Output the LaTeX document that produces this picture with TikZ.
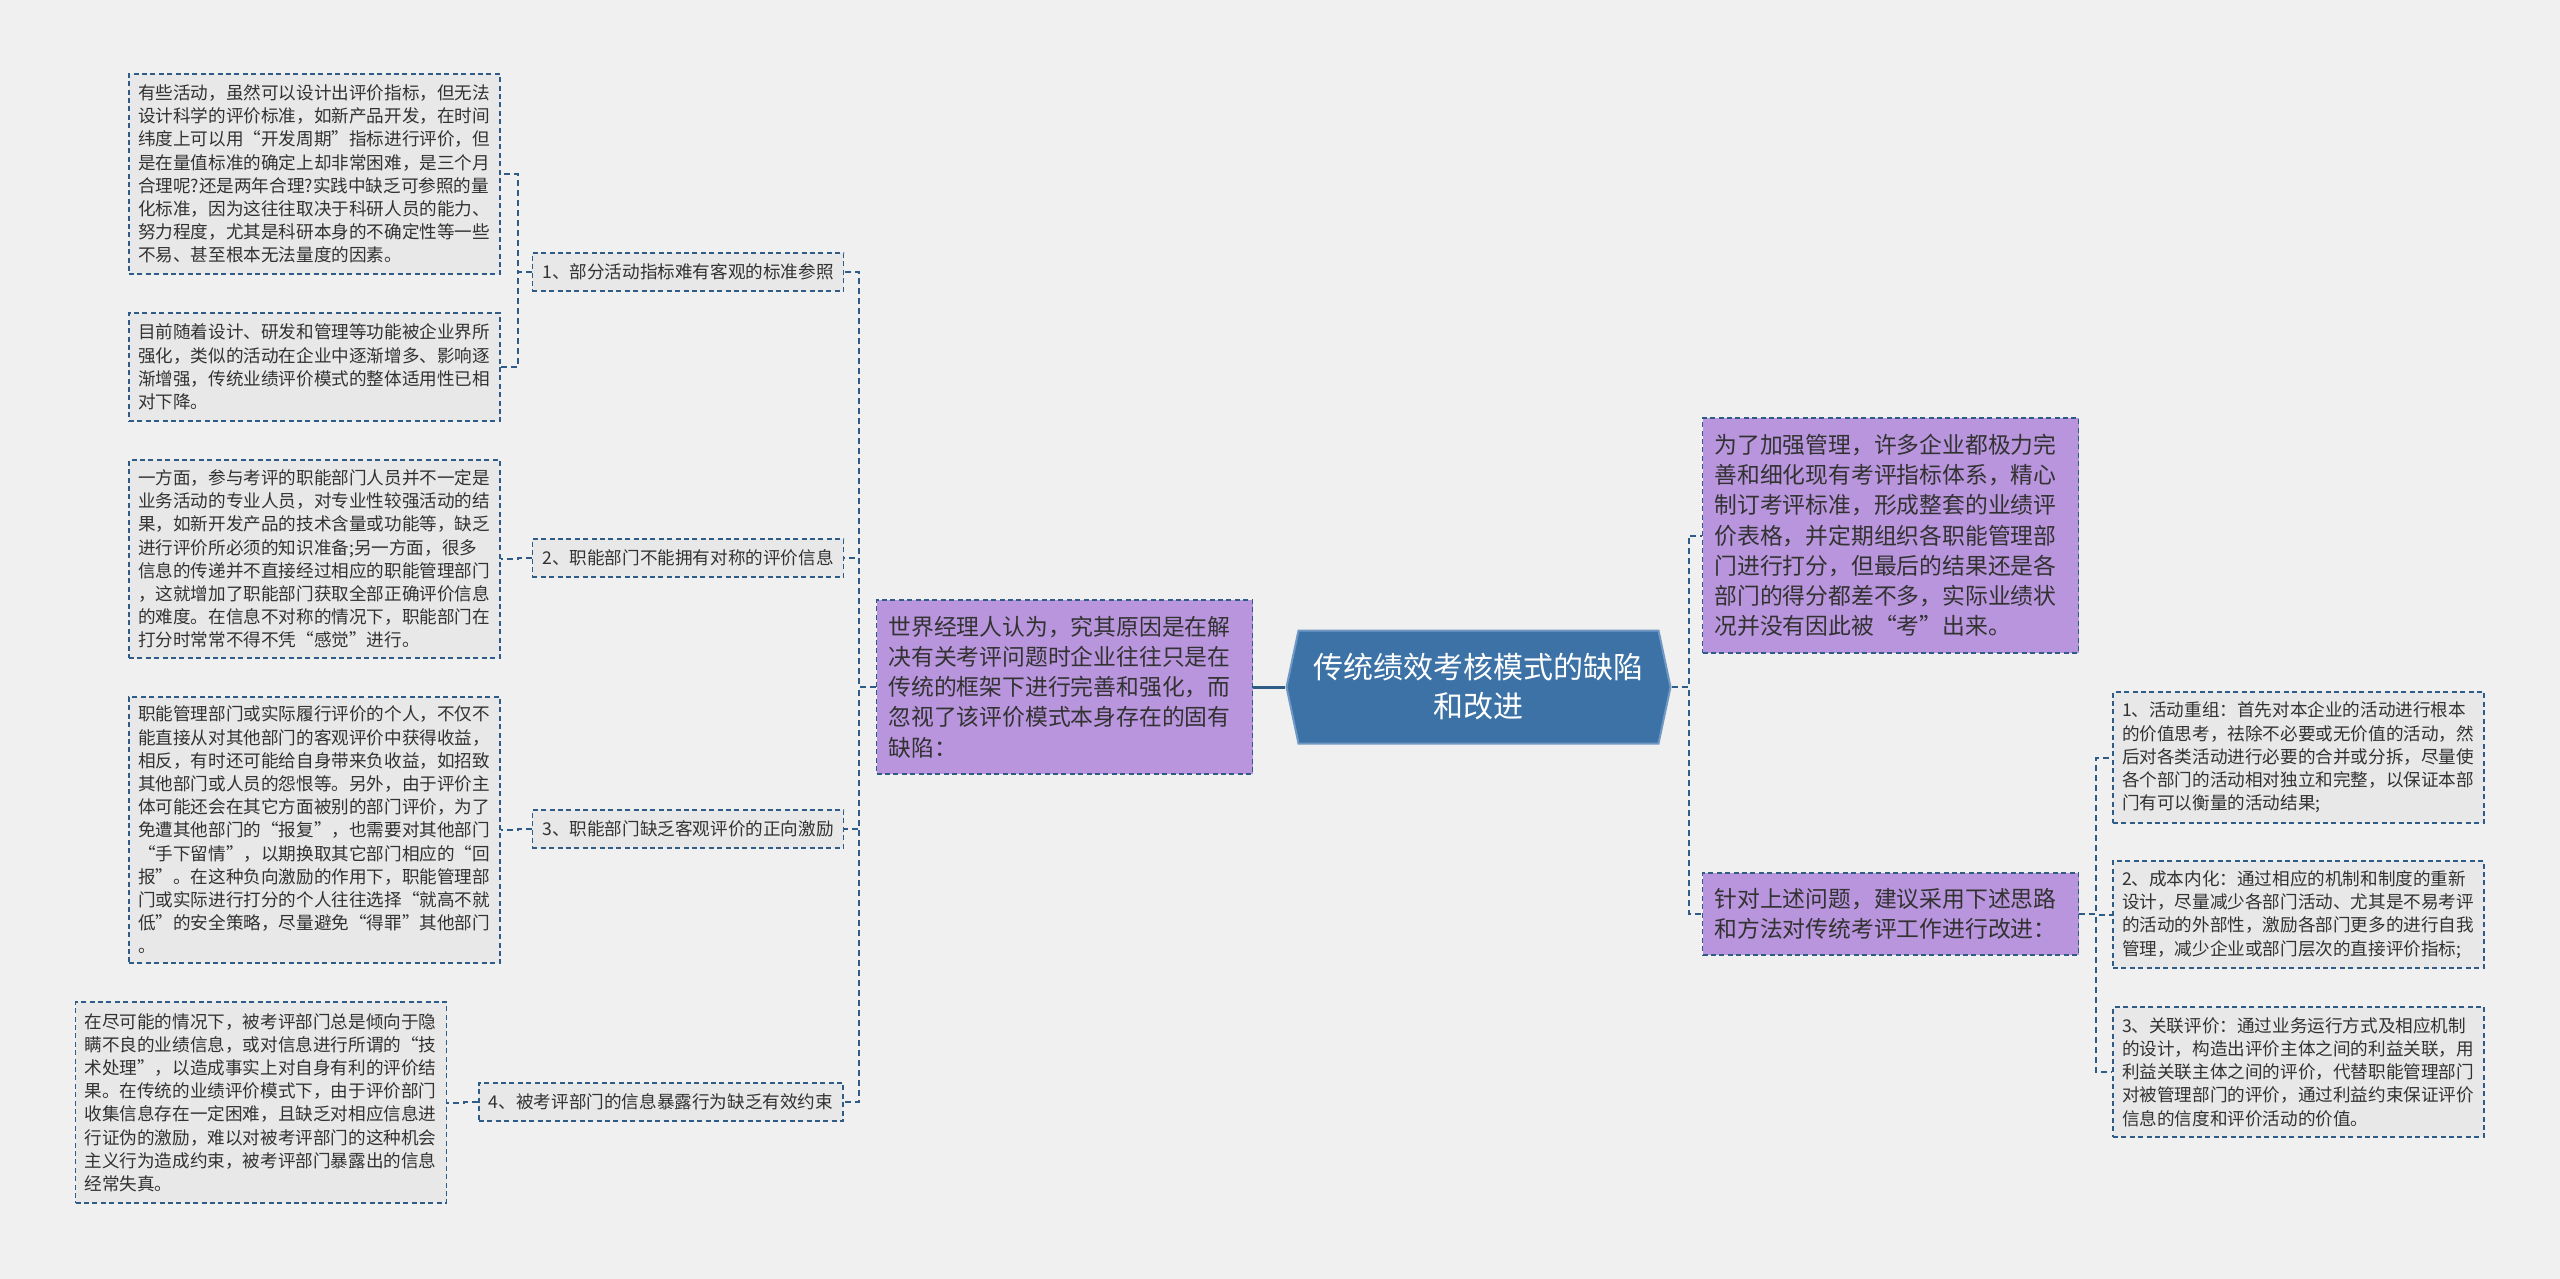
\documentclass[tikz,border=0pt]{standalone}
\usepackage{fontspec}
\setmainfont{Noto Sans CJK SC}
\usetikzlibrary{shapes.symbols}
\definecolor{bgGray}{RGB}{240,240,240}
\definecolor{leafGray}{RGB}{232,232,232}
\definecolor{lineBlue}{RGB}{46,92,135}
\definecolor{rootBlue}{RGB}{60,114,165}
\definecolor{rootEdge}{RGB}{112,152,196}
\definecolor{notePurple}{RGB}{184,149,220}
\definecolor{textGray}{RGB}{50,50,50}
\newcommand\colorLink{lineBlue}
\newcommand\busGap{17}
\newcommand\leafGap{14}
\tikzset{
	linkline/.style={draw=\colorLink, line width=1pt, dash pattern=on 3pt off 2pt},
	leafbox/.style={draw=lineBlue, line width=0.75pt, dash pattern=on 2.5pt off 1.7pt,
		fill=leafGray, text=textGray, align=left, inner xsep=4.5pt, inner ysep=0pt,
		text width=176.5pt, font=\fontsize{8.8}{11.6}\selectfont},
	branchbox/.style={draw=lineBlue, line width=0.75pt, dash pattern=on 2.5pt off 1.7pt,
		fill=leafGray, text=textGray, inner xsep=5pt, inner ysep=0pt,
		minimum height=19pt, font=\fontsize{8.8}{10}\selectfont},
	notebox/.style={draw=lineBlue, line width=0.75pt, dash pattern=on 2.5pt off 1.7pt,
		fill=notePurple, text=textGray, align=left, inner xsep=6pt, inner ysep=0pt,
		text width=176pt, font=\fontsize{11.4}{15.1}\selectfont},
	titlehex/.style={signal, signal to=west and east, signal pointer angle=156,
		fill=rootBlue, draw=rootEdge, line width=1pt, text=white, align=center,
		minimum width=192pt, minimum height=56.5pt, font=\fontsize{15}{19.5}\selectfont}
}

\begin{document}
\begin{tikzpicture}[x=0.5pt, y=-0.5pt]
	\fill[bgGray] (0,0) rectangle (2560,1279);
	\useasboundingbox (0,0) rectangle (2560,1279);
	
	% centre
	\node[titlehex] (core) at (1478.5,687) {传统绩效考核模式的缺陷\\和改进};
	
	% left side
	\node[notebox, minimum height=87pt] (cause) at (1064.5,687) {世界经理人认为，究其原因是在解\\决有关考评问题时企业往往只是在\\传统的框架下进行完善和强化，而\\忽视了该评价模式本身存在的固有\\缺陷：};
	
	\node[branchbox] (b1) at (688,272) {1、部分活动指标难有客观的标准参照};
	\node[branchbox] (b2) at (688,558) {2、职能部门不能拥有对称的评价信息};
	\node[branchbox] (b3) at (688,829) {3、职能部门缺乏客观评价的正向激励};
	\node[branchbox] (b4) at (661,1102) {4、被考评部门的信息暴露行为缺乏有效约束};
	
	\node[leafbox, minimum height=100pt] (b1a) at (314.5,174) {有些活动，虽然可以设计出评价指标，但无法\\设计科学的评价标准，如新产品开发，在时间\\纬度上可以用“开发周期”指标进行评价，但\\是在量值标准的确定上却非常困难，是三个月\\合理呢?还是两年合理?实践中缺乏可参照的量\\化标准，因为这往往取决于科研人员的能力、\\努力程度，尤其是科研本身的不确定性等一些\\不易、甚至根本无法量度的因素。};
	\node[leafbox, minimum height=54pt] (b1b) at (314.5,367) {目前随着设计、研发和管理等功能被企业界所\\强化，类似的活动在企业中逐渐增多、影响逐\\渐增强，传统业绩评价模式的整体适用性已相\\对下降。};
	\node[leafbox, minimum height=99pt] (b2a) at (314.5,559) {一方面，参与考评的职能部门人员并不一定是\\业务活动的专业人员，对专业性较强活动的结\\果，如新开发产品的技术含量或功能等，缺乏\\进行评价所必须的知识准备;另一方面，很多\\信息的传递并不直接经过相应的职能管理部门\\，这就增加了职能部门获取全部正确评价信息\\的难度。在信息不对称的情况下，职能部门在\\打分时常常不得不凭“感觉”进行。};
	\node[leafbox, minimum height=133pt] (b3a) at (314.5,830) {职能管理部门或实际履行评价的个人，不仅不\\能直接从对其他部门的客观评价中获得收益，\\相反，有时还可能给自身带来负收益，如招致\\其他部门或人员的怨恨等。另外，由于评价主\\体可能还会在其它方面被别的部门评价，为了\\免遭其他部门的“报复”，也需要对其他部门\\“手下留情”，以期换取其它部门相应的“回\\报”。在这种负向激励的作用下，职能管理部\\门或实际进行打分的个人往往选择“就高不就\\低”的安全策略，尽量避免“得罪”其他部门\\。};
	\node[leafbox, minimum height=100.5pt] (b4a) at (261,1102.5) {在尽可能的情况下，被考评部门总是倾向于隐\\瞒不良的业绩信息，或对信息进行所谓的“技\\术处理”，以造成事实上对自身有利的评价结\\果。在传统的业绩评价模式下，由于评价部门\\收集信息存在一定困难，且缺乏对相应信息进\\行证伪的激励，难以对被考评部门的这种机会\\主义行为造成约束，被考评部门暴露出的信息\\经常失真。};
	
	% right side
	\node[notebox, minimum height=117.5pt] (status) at (1890.5,535.5) {为了加强管理，许多企业都极力完\\善和细化现有考评指标体系，精心\\制订考评标准，形成整套的业绩评\\价表格，并定期组织各职能管理部\\门进行打分，但最后的结果还是各\\部门的得分都差不多，实际业绩状\\况并没有因此被“考”出来。};
	\node[notebox, minimum height=41pt] (advice) at (1890.5,914) {针对上述问题，建议采用下述思路\\和方法对传统考评工作进行改进：};
	
	\node[leafbox, minimum height=65.5pt] (a1) at (2298.5,757.5) {1、活动重组：首先对本企业的活动进行根本\\的价值思考，祛除不必要或无价值的活动，然\\后对各类活动进行必要的合并或分拆，尽量使\\各个部门的活动相对独立和完整，以保证本部\\门有可以衡量的活动结果;};
	\node[leafbox, minimum height=53.5pt] (a2) at (2298.5,914.5) {2、成本内化：通过相应的机制和制度的重新\\设计，尽量减少各部门活动、尤其是不易考评\\的活动的外部性，激励各部门更多的进行自我\\管理，减少企业或部门层次的直接评价指标;};
	\node[leafbox, minimum height=65pt] (a3) at (2298.5,1072) {3、关联评价：通过业务运行方式及相应机制\\的设计，构造出评价主体之间的利益关联，用\\利益关联主体之间的评价，代替职能管理部门\\对被管理部门的评价，通过利益约束保证评价\\信息的信度和评价活动的价值。};
	
	% connectors
	\draw[\colorLink, line width=1.5pt] (core.west) -- (cause.east);
	\foreach \b in {b1,b2,b3,b4}{
		\draw[linkline] (cause.west) -- ++(-\busGap,0) |- (\b.east);
	}
	\foreach \b/\l in {b1/b1a,b1/b1b,b2/b2a,b3/b3a,b4/b4a}{
		\draw[linkline] (\b.west) -- ++(-\leafGap,0) |- (\l.east);
	}
	\foreach \n in {status,advice}{
		\draw[linkline] (core.east) -- ++(\busGap,0) |- (\n.west);
	}
	\foreach \a in {a1,a2,a3}{
		\draw[linkline] (advice.east) -- ++(\busGap,0) |- (\a.west);
	}
\end{tikzpicture}
\end{document}
